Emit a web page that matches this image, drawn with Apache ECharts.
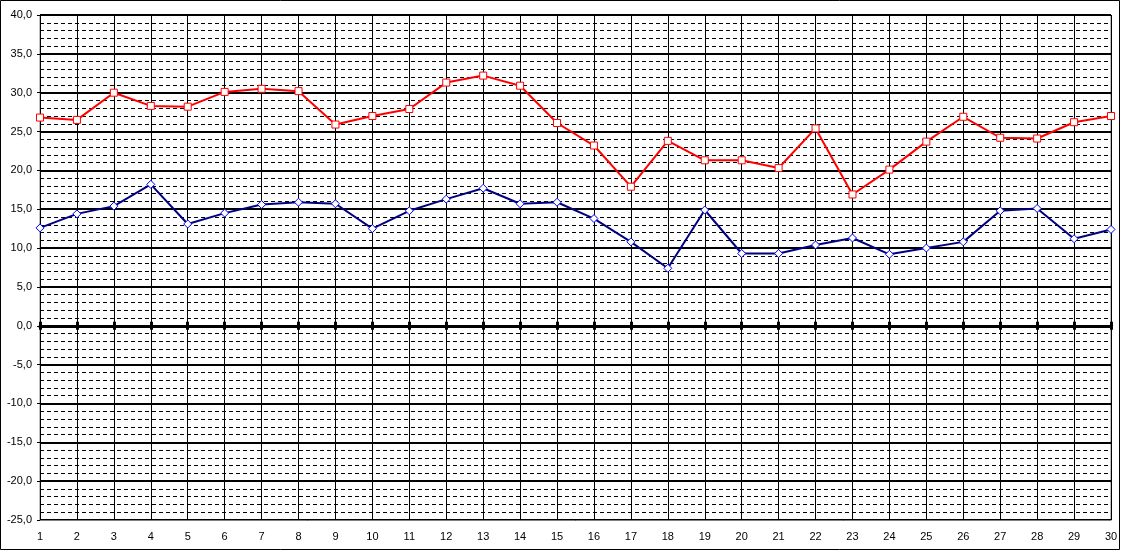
<!DOCTYPE html>
<html>
<head>
<meta charset="utf-8">
<script src="https://cdn.jsdelivr.net/npm/echarts@6/dist/echarts.min.js"></script>
<style>
html,body{margin:0;padding:0;background:#fff;}
#chart{width:1124px;height:552px;}
</style>
</head>
<body>
<div id="chart"></div>
<script>
const days = ['1','2','3','4','5','6','7','8','9','10','11','12','13','14','15','16','17','18','19','20','21','22','23','24','25','26','27','28','29','30'];
const maxTemp = [26.8,26.5,30.0,28.3,28.2,30.1,30.5,30.2,25.9,27.0,27.9,31.3,32.2,30.9,26.1,23.2,17.9,23.8,21.3,21.3,20.3,25.4,16.9,20.1,23.7,26.9,24.2,24.1,26.2,27.0];
const minTemp = [12.6,14.4,15.4,18.2,13.1,14.5,15.6,15.9,15.7,12.5,14.8,16.3,17.7,15.7,15.9,13.8,10.8,7.4,14.9,9.3,9.3,10.4,11.3,9.2,10.0,10.8,14.8,15.1,11.2,12.4];
const yMin = -25, yMax = 40, yStep = 5;

const chart = echarts.init(document.getElementById('chart'));
const fmt = v => v.toFixed(1).replace('.', ',');
const font = 'Liberation Sans, Arial, sans-serif';

chart.setOption({
  animation: false,
  backgroundColor: '#fff',
  graphic: [{
    type: 'rect', shape: {x: 0.5, y: 0.5, width: 1119, height: 549},
    style: {fill: 'none', stroke: '#000', lineWidth: 1}, silent: true, z: -10
  }],
  grid: {left: 40, right: 13, top: 15, bottom: 32, show: true, borderColor: '#808080', borderWidth: 1, backgroundColor: '#fff'},
  xAxis: [{
    type: 'category', data: days, boundaryGap: false, position: 'bottom',
    axisLine: {onZero: false, lineStyle: {color: '#808080', width: 1}},
    axisTick: {show: false},
    axisLabel: {color: '#000', fontFamily: font, fontSize: 11, margin: 11, interval: 0},
    splitLine: {show: true, lineStyle: {color: '#000', width: 1}}
  }, {
    type: 'category', data: days, boundaryGap: false,
    axisLine: {onZero: true, onZeroAxisIndex: 0, lineStyle: {color: '#000', width: 3}},
    axisTick: {show: true, inside: false, length: 4, interval: 0, lineStyle: {color: '#000', width: 3}},
    axisLabel: {show: false}, splitLine: {show: false}
  }, {
    type: 'category', data: days, boundaryGap: false,
    axisLine: {onZero: true, onZeroAxisIndex: 1, lineStyle: {color: '#000', width: 3}},
    axisTick: {show: true, inside: true, length: 4, interval: 0, lineStyle: {color: '#000', width: 3}},
    axisLabel: {show: false}, splitLine: {show: false}
  }],
  yAxis: [{
    type: 'value', min: yMin, max: yMax, interval: yStep,
    axisLine: {show: true, lineStyle: {color: '#000', width: 1}},
    axisTick: {show: true, length: 3, lineStyle: {color: '#000'}},
    axisLabel: {color: '#000', fontFamily: font, fontSize: 11, margin: 8, formatter: fmt},
    splitLine: {show: true, lineStyle: {color: '#000', width: 2}},
    minorTick: {show: false, splitNumber: 5},
    minorSplitLine: {show: true, lineStyle: {color: '#000', width: 1, type: [4, 3]}}
  }, {
    type: 'value', min: yMin, max: yMax, interval: yStep, show: false,
    splitLine: {show: false}
  }],
  series: [{
    name: 'max', type: 'line', data: maxTemp, z: 5,
    symbol: 'rect', symbolSize: 7, showAllSymbol: true,
    lineStyle: {color: '#ff0000', width: 2},
    itemStyle: {color: '#fff', borderColor: '#ff0000', borderWidth: 1}
  }, {
    name: 'min', type: 'line', data: minTemp, z: 5,
    symbol: 'diamond', symbolSize: [8, 8], showAllSymbol: true,
    lineStyle: {color: '#000080', width: 2},
    itemStyle: {color: '#fff', borderColor: '#0000ff', borderWidth: 1}
  }]
});
</script>
</body>
</html>
